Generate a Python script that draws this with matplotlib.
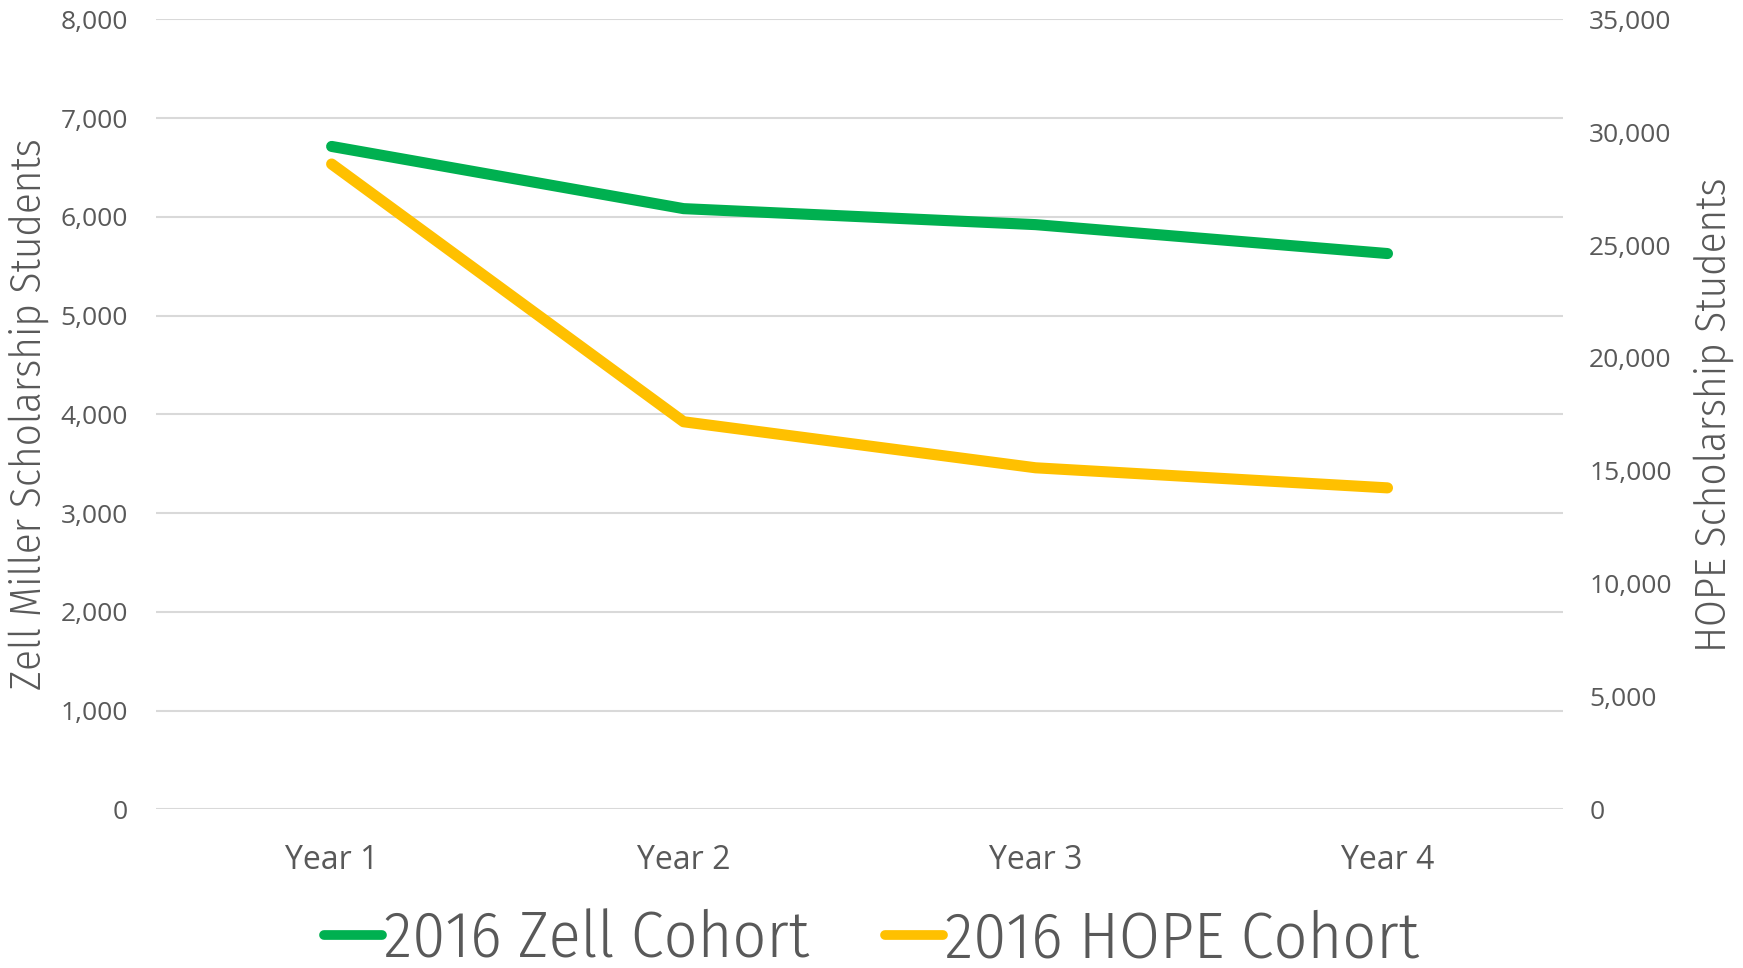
import matplotlib
matplotlib.use("Agg")
import matplotlib.pyplot as plt
from matplotlib.ticker import FuncFormatter, MultipleLocator

years = ["Year 1", "Year 2", "Year 3", "Year 4"]
zell_cohort = [6713, 6083, 5921, 5628]
hope_cohort = [28590, 17170, 15130, 14240]

GREEN = "#00B050"
YELLOW = "#FFC000"
TXT = "#595959"
GRID = "#D9D9D9"

tick_font = ["Open Sans", "DejaVu Sans"]
title_font = ["Fira Sans Condensed", "DejaVu Sans"]

fig = plt.figure(figsize=(17.43, 9.68), dpi=100)
ax = fig.add_axes([0.0893, 0.164, 0.8077, 0.816])
ax2 = ax.twinx()

x = list(range(len(years)))
l1, = ax.plot(x, zell_cohort, color=GREEN, lw=8, solid_capstyle="round",
              solid_joinstyle="round", label="2016 Zell Cohort", zorder=3)
l2, = ax2.plot(x, hope_cohort, color=YELLOW, lw=8, solid_capstyle="round",
               solid_joinstyle="round", label="2016 HOPE Cohort", zorder=3)

ax.set_xlim(-0.5, 3.5)
ax.set_ylim(0, 8000)
ax2.set_ylim(0, 35000)
ax.yaxis.set_major_locator(MultipleLocator(1000))
ax2.yaxis.set_major_locator(MultipleLocator(5000))
fmt = FuncFormatter(lambda v, p: f"{int(v):,}")
ax.yaxis.set_major_formatter(fmt)
ax2.yaxis.set_major_formatter(fmt)
ax.set_xticks(x)
ax.set_xticklabels(years)

ax.grid(axis="y", color=GRID, lw=1.5)
ax.set_axisbelow(True)
for a in (ax, ax2):
    for s in a.spines.values():
        s.set_visible(False)
    a.tick_params(length=0, colors=TXT, labelsize=19)
    for lab in a.get_yticklabels() + a.get_xticklabels():
        lab.set_family(tick_font)
ax.tick_params(axis="y", pad=20)
ax2.tick_params(axis="y", pad=18.5)
ax.tick_params(axis="x", pad=25, labelsize=23)

ax.set_ylabel("Zell Miller Scholarship Students", color=TXT, fontsize=31,
              family=title_font, fontweight=300)
ax2.set_ylabel("HOPE Scholarship Students", color=TXT, fontsize=31,
               family=title_font, fontweight=300, rotation=90)
ax.yaxis.set_label_coords(-0.076, 0.5)
ax2.yaxis.set_label_coords(1.092, 0.5)

leg = fig.legend(handles=[l1, l2], loc="center", bbox_to_anchor=(0.5, 0.029),
                 ncol=2, frameon=False, handlelength=0.89,
                 handletextpad=0.03, columnspacing=1.14,
                 prop={"family": title_font, "size": 47.5, "weight": 300})
for t in leg.get_texts():
    t.set_color(TXT)
for h in leg.get_lines():
    h.set_linewidth(7)

fig.savefig("out.png", dpi=100, facecolor="white")
